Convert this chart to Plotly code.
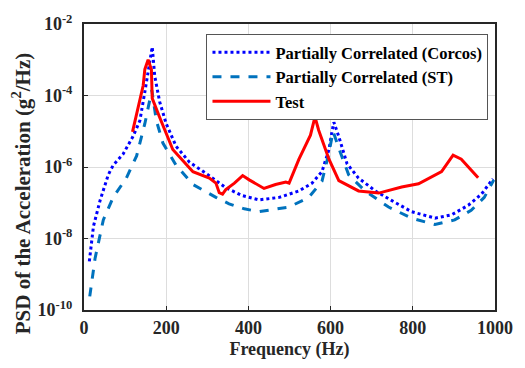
import plotly.graph_objects as go

# Partially Correlated (Corcos)
corcos_f = [13, 23, 39, 59, 71, 95, 119, 136, 148, 160, 166, 172, 184, 200, 224, 257, 297, 345, 385, 426,
            475, 523, 555, 579, 596, 604, 608, 620, 640, 668, 709, 749, 797, 854, 894, 935, 967, 995]
corcos_log = [-8.64, -7.66, -6.94, -6.22, -5.95, -5.64, -5.15, -4.70, -3.90, -3.0, -2.64, -3.45, -4.17, -4.79,
              -5.42, -5.87, -6.18, -6.58, -6.80, -6.92,
              -6.85, -6.67, -6.45, -6.13, -5.51, -4.97, -4.75, -5.15, -5.91, -6.31, -6.67, -6.94, -7.25,
              -7.43, -7.34, -7.07, -6.76, -6.33]

# Partially Correlated (ST)
st_f = [14, 27, 47, 71, 103, 128, 148, 165, 176, 192, 224, 265, 321, 353, 390, 426,
        475, 499, 547, 579, 596, 606, 624, 644, 684, 741, 797, 854, 902, 942, 974, 997]
st_log = [-9.62, -8.55, -7.48, -6.85, -6.31, -5.69, -4.79, -3.85, -4.70, -5.33, -5.95, -6.49, -6.85, -7.03,
          -7.17, -7.25,
          -7.16, -7.12, -6.85, -6.40, -5.60, -5.0, -5.60, -6.22, -6.67, -7.12, -7.43, -7.61, -7.48, -7.21,
          -6.85, -6.36]

# Test
test_f = [118, 132, 144, 148, 156, 164, 166, 184, 216, 265, 305, 321, 329, 337, 345, 366, 386, 402, 438,
          466, 491, 499, 507, 523, 551, 562, 571, 596, 620, 668, 717, 773, 814, 870, 898, 918, 959]
test_log = [-5.02, -4.34, -3.72, -3.27, -3.0, -3.27, -4.08, -4.61, -5.51, -6.13, -6.31, -6.45, -6.72, -6.76,
            -6.63, -6.45, -6.24, -6.36, -6.60, -6.49, -6.42, -6.45, -6.22, -5.78, -5.11, -4.60, -4.97,
            -5.78, -6.38, -6.67, -6.73, -6.56, -6.47, -6.13, -5.67, -5.78, -6.30]

x_ticks = [0, 200, 400, 600, 800, 1000]
y_tick_exp = [-10, -8, -6, -4, -2]

corcos = [10 ** v for v in corcos_log]
st = [10 ** v for v in st_log]
test = [10 ** v for v in test_log]

font_fam = "Liberation Serif"
txt_col = "#262626"

fig = go.Figure()
fig.add_trace(go.Scatter(x=corcos_f, y=corcos, mode="lines", name="<b>Partially Correlated (Corcos)</b>",
                         line=dict(color="#0000FF", width=3, dash="dot")))
fig.add_trace(go.Scatter(x=st_f, y=st, mode="lines", name="<b>Partially Correlated (ST)</b>",
                         line=dict(color="#0072BD", width=3, dash="dash")))
fig.add_trace(go.Scatter(x=test_f, y=test, mode="lines", name="<b>Test</b>",
                         line=dict(color="#FF0000", width=3)))

fig.update_layout(
    width=525, height=368,
    margin=dict(l=84, r=28, t=16, b=54),
    paper_bgcolor="white", plot_bgcolor="white",
    font=dict(family=font_fam, color=txt_col, size=17),
    legend=dict(x=0.298, y=0.965, xanchor="left", yanchor="top",
                bgcolor="white", bordercolor="#555555", borderwidth=1,
                font=dict(family=font_fam, size=16.5, color="black"),
                tracegroupgap=0, itemwidth=58),
    showlegend=True,
    annotations=[dict(text="<b>PSD of the Acceleration (g<sup>2</sup>/Hz)</b>", textangle=-90,
                      xref="paper", yref="paper", x=-0.150, y=0.406, xanchor="center", yanchor="middle",
                      showarrow=False, font=dict(family=font_fam, size=21, color=txt_col))],
)
fig.update_xaxes(range=[0, 1000], tickvals=x_ticks, ticktext=["<b>%d</b>" % v for v in x_ticks],
                 showgrid=True, gridcolor="#DDDDDD", gridwidth=1,
                 showline=True, linecolor="#262626", linewidth=2, mirror=True,
                 ticks="inside", ticklen=4, tickcolor="#262626", zeroline=False,
                 tickfont=dict(size=18),
                 title=dict(text="<b>Frequency (Hz)</b>", font=dict(size=18), standoff=6))
fig.update_yaxes(type="log", range=[-10, -2], tickvals=[10 ** e for e in y_tick_exp],
                 ticktext=["<b>10<sup>%d</sup></b>" % e for e in y_tick_exp],
                 showgrid=True, gridcolor="#DDDDDD", gridwidth=1,
                 showline=True, linecolor="#262626", linewidth=2, mirror=True,
                 ticks="inside", ticklen=4, tickcolor="#262626", zeroline=False,
                 tickfont=dict(size=18), ticklabelstandoff=6)

fig.write_html("out.html")
